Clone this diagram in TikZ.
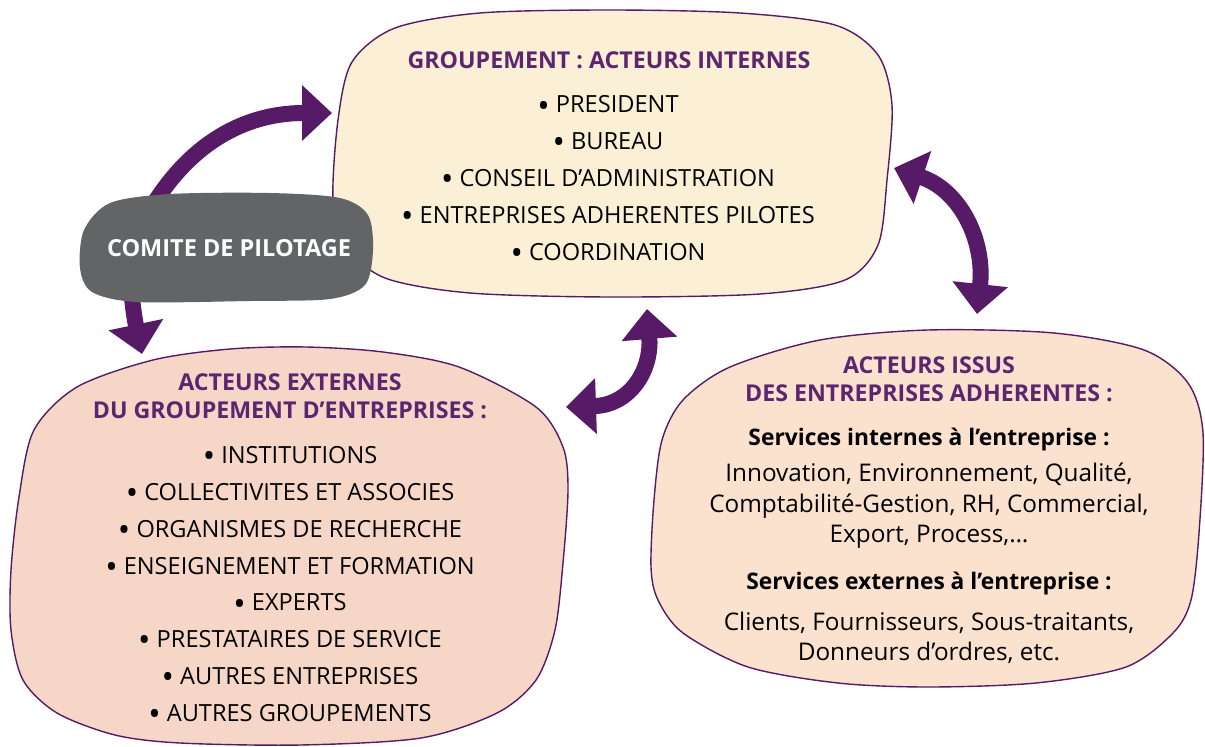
\documentclass[tikz,border=0pt]{standalone}
\usepackage{fontspec}
\setmainfont{Open Sans}
\usetikzlibrary{arrows.meta}
\definecolor{violetA}{RGB}{86,26,102}
\definecolor{titleC}{RGB}{92,37,112}
\definecolor{creme}{RGB}{251,239,214}
\definecolor{rosee}{RGB}{246,214,198}
\definecolor{peche}{RGB}{250,226,207}
\definecolor{grisC}{RGB}{99,100,102}
\newcommand{\puce}{\raisebox{-4.2pt}{\fontsize{33}{0}\selectfont •}}
\tikzset{
  blob/.style={draw=violetA, line width=1.4pt},
  fleche/.style={draw=violetA, line width=16pt, -{Triangle[width=54pt,length=30pt]}},
  flechedouble/.style={draw=violetA, line width=16pt, {Triangle[width=54pt,length=30pt]}-{Triangle[width=54pt,length=30pt]}},
  titre/.style={font=\bfseries\fontsize{23.2}{28}\selectfont, text=titleC, align=center, inner sep=0pt},
  liste/.style={font=\fontsize{23.6}{36.8}\selectfont, align=center, inner sep=0pt},
  soustitre/.style={font=\bfseries\fontsize{22.8}{29}\selectfont, align=center, inner sep=0pt},
  corps/.style={font=\fontsize{24.3}{30.5}\selectfont, align=center, inner sep=0pt},
  comitetxt/.style={font=\bfseries\fontsize{23.5}{26}\selectfont, text=white, inner sep=0pt},
}
\begin{document}
\begin{tikzpicture}[x=1pt,y=-1pt]
\useasboundingbox (0,0) rectangle (1205,747);

% top box
\draw[blob, fill=creme] plot[smooth cycle] coordinates {(333,200) (338,120) (352,62) (395,28) (480,13) (610,10) (740,13) (835,25) (878,55) (892,105) (887,180) (878,245) (845,280) (760,294) (610,297) (470,293) (385,278) (345,245)};
% bottom-left box
\draw[blob, fill=rosee] plot[smooth cycle] coordinates {(306,347) (383,352) (459,367) (536,407) (563,447) (568,490) (563,563) (555,630) (536,680) (497,713) (421,738) (300,745) (180,743) (115,735) (57,713) (23,680) (11,630) (11,570) (19,497) (34,430) (77,387) (153,360) (230,349)};
% right box
\draw[blob, fill=peche] plot[smooth cycle] coordinates {(928,330) (1054,333) (1144,350) (1188,383) (1203,433) (1199,533) (1191,600) (1173,633) (1126,667) (1036,683) (928,687) (838,683) (748,667) (683,633) (658,600) (651,567) (654,500) (662,440) (683,400) (730,367) (820,340)};

% arrow end points
\coordinate (a1s) at (153,205);
\coordinate (a1e) at (332,113);
\coordinate (a2s) at (131,285);
\coordinate (a2e) at (142,354);
\coordinate (a3s) at (566,407);
\coordinate (a3e) at (647,309);
\coordinate (a4s) at (894,168);
\coordinate (a4e) at (977,314);

\draw[fleche] (a1s) .. controls (200,130) and (260,113) .. (a1e);
\draw[fleche] (a2s) .. controls (133,315) and (137,330) .. (a2e);
\draw[flechedouble] (a3s) .. controls (630,405) and (652,370) .. (a3e);
\draw[flechedouble] (a4s) .. controls (960,190) and (985,240) .. (a4e);

% comite
\draw[draw=none, fill=grisC] plot[smooth cycle] coordinates {(80,268) (84,230) (110,203) (170,194) (270,193) (340,198) (368,215) (373,250) (365,285) (330,299) (250,301) (137,302) (92,292)};
\node[comitetxt] (comite) at (229,248) {COMITE DE PILOTAGE};

% texts top
\node[titre] (t1) at (609,60) {GROUPEMENT : ACTEURS INTERNES};
\node[liste] (l1) at (608,180) {\puce\ PRESIDENT\\ \puce\ BUREAU\\ \puce\ CONSEIL D’ADMINISTRATION\\ \puce\ ENTREPRISES ADHERENTES PILOTES\\ \puce\ COORDINATION};

% texts bottom-left
\node[titre] (t2) at (290,396) {ACTEURS EXTERNES\\ DU GROUPEMENT D’ENTREPRISES :};
\node[liste] (l2) at (290,586) {\puce\ INSTITUTIONS\\ \puce\ COLLECTIVITES ET ASSOCIES\\ \puce\ ORGANISMES DE RECHERCHE\\ \puce\ ENSEIGNEMENT ET FORMATION\\ \puce\ EXPERTS\\ \puce\ PRESTATAIRES DE SERVICE\\ \puce\ AUTRES ENTREPRISES\\ \puce\ AUTRES GROUPEMENTS};

% texts right
\node[titre] (t3) at (929,379) {ACTEURS ISSUS\\ DES ENTREPRISES ADHERENTES :};
\node[soustitre] (s1) at (929,439) {Services internes à l’entreprise :};
\node[corps] (c1) at (929,506) {Innovation, Environnement, Qualité,\\ Comptabilité-Gestion, RH, Commercial,\\ Export, Process,…};
\node[soustitre] (s2) at (929,583) {Services externes à l’entreprise :};
\node[corps] (c2) at (929,638) {Clients, Fournisseurs, Sous-traitants,\\ Donneurs d’ordres, etc.};
\end{tikzpicture}
\end{document}
